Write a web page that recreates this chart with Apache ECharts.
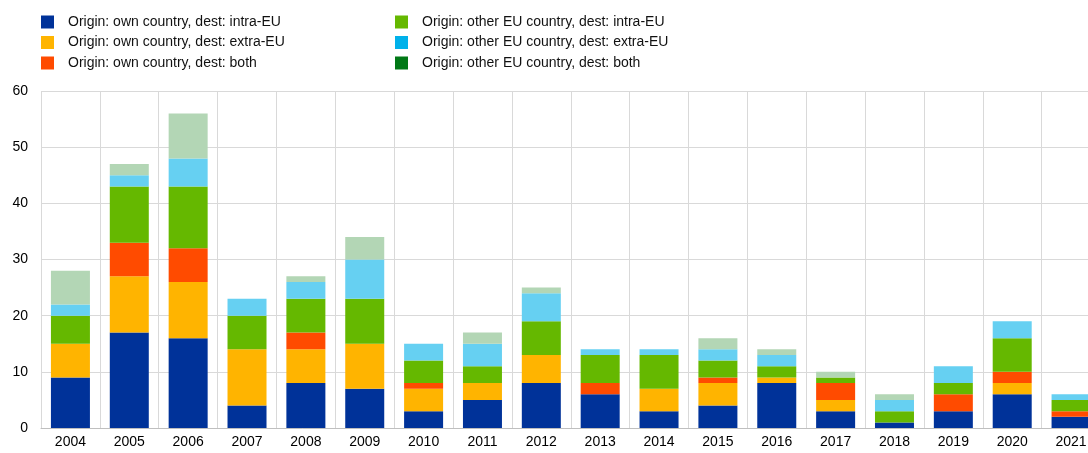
<!DOCTYPE html>
<html>
<head>
<meta charset="utf-8">
<script src="https://cdn.jsdelivr.net/npm/echarts@6/dist/echarts.min.js"></script>
<style>
  html, body { margin: 0; padding: 0; background: #fff; }
  #char { width: 1088px; height: 453px; }
</style>
</head>
<body>
<div id="char"></div>
<script>
// categories
const years = ['2004', '2005', '2006', '2007', '2008', '2009', '2010', '2011', '2012',
  '2013', '2014', '2015', '2016', '2017', '2018', '2019', '2020', '2021']

// series values (stacked, bottom to top)
const ownIntra = [9, 17, 16, 4, 8, 7, 3, 5, 8, 6, 3, 4, 8, 3, 1, 3, 6, 2]
const ownExtra = [6, 10, 10, 10, 6, 8, 4, 3, 5, 0, 4, 4, 1, 2, 0, 0, 2, 0]
const ownBoth = [0, 6, 6, 0, 3, 0, 1, 0, 0, 2, 0, 1, 0, 3, 0, 3, 2, 1]
const otherIntra = [5, 10, 11, 6, 6, 8, 4, 3, 6, 5, 6, 3, 2, 1, 2, 2, 6, 2]
const otherExtra = [2, 2, 5, 3, 3, 7, 3, 4, 5, 1, 1, 2, 2, 0, 2, 3, 3, 1]
const otherBoth = [6, 2, 8, 0, 1, 4, 0, 2, 1, 0, 0, 2, 1, 1, 1, 0, 0, 0]

const yTicks = { min: 0, max: 60, interval: 10 }

const names = [
  'Origin: own country, dest: intra-EU',
  'Origin: own country, dest: extra-EU',
  'Origin: own country, dest: both',
  'Origin: other EU country, dest: intra-EU',
  'Origin: other EU country, dest: extra-EU',
  'Origin: other EU country, dest: both'
]
// legend colours, bar colours (light blue and dark green bars are faded)
const legendColor = ['#003299', '#ffb400', '#ff4b00', '#65b800', '#00b1ea', '#007816']
const barColor = ['#003299', '#ffb400', '#ff4b00', '#65b800', '#66d0f2', '#b3d6b5']
const values = [ownIntra, ownExtra, ownBoth, otherIntra, otherExtra, otherBoth]

let myChart = echarts.init(document.getElementById('char'))

const legendBase = {
  orient: 'vertical',
  top: 15,
  padding: 0,
  itemWidth: 13,
  itemHeight: 13,
  itemGap: 6.5,
  icon: 'rect',
  selectedMode: false,
  textStyle: {
    fontFamily: 'Liberation Sans, Arial, sans-serif',
    fontSize: 14,
    color: '#111',
    lineHeight: 14,
    padding: [0, 0, 0, 9]
  }
}

let option = {
  animation: false,
  legend: [
    Object.assign({}, legendBase, {
      left: 41,
      data: names.slice(0, 3).map((n, i) => ({ name: n, itemStyle: { color: legendColor[i] } }))
    }),
    Object.assign({}, legendBase, {
      left: 395,
      data: names.slice(3).map((n, i) => ({ name: n, itemStyle: { color: legendColor[i + 3] } }))
    })
  ],
  grid: {
    left: 41,
    width: 1059.5,
    top: 91,
    bottom: 25,
    containLabel: false,
    outerBoundsMode: 'none'
  },
  xAxis: {
    type: 'category',
    data: years,
    axisTick: { show: false },
    axisLine: { lineStyle: { color: '#bfbfbf', width: 1 } },
    axisLabel: {
      color: '#000',
      fontFamily: 'Liberation Sans, Arial, sans-serif',
      fontSize: 14,
      margin: 7,
      interval: 0
    },
    splitLine: { show: true, interval: 0, lineStyle: { color: '#d9d9d9' } }
  },
  yAxis: {
    type: 'value',
    min: yTicks.min,
    max: yTicks.max,
    interval: yTicks.interval,
    axisLine: { show: false },
    axisTick: { show: false },
    axisLabel: {
      color: '#000',
      fontFamily: 'Liberation Sans, Arial, sans-serif',
      fontSize: 14,
      margin: 13
    },
    splitLine: { lineStyle: { color: '#d9d9d9' } }
  },
  series: []
}

values.forEach((v, i) => {
  option.series.push({
    name: names[i],
    type: 'bar',
    stack: 'total',
    data: v,
    barWidth: 39,
    itemStyle: { color: barColor[i] }
  })
})

myChart.setOption(option)
</script>
</body>
</html>
